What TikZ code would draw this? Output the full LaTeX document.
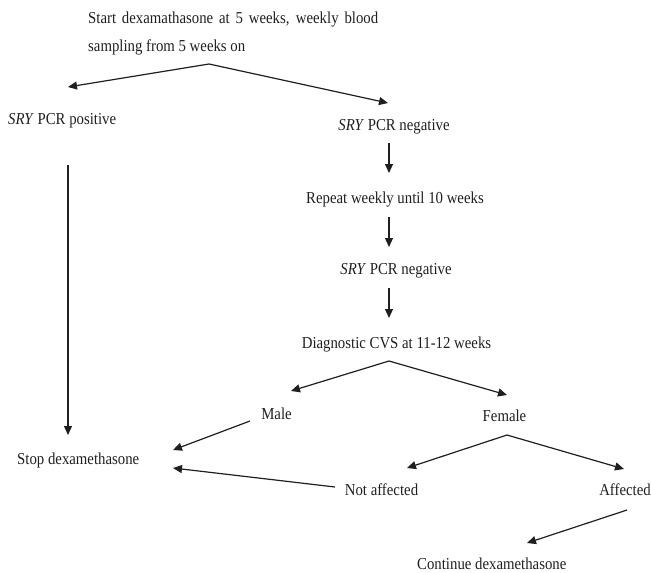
\documentclass[tikz,border=0pt]{standalone}
\usepackage{graphicx}
\usepackage{fontspec}
\setmainfont{Liberation Serif}
\usetikzlibrary{arrows.meta}
\newcommand{\tallt}[1]{\scalebox{1}[1.13]{#1}}
\begin{document}
\begin{tikzpicture}[x=1pt,y=-1pt,
  lbl/.style={inner sep=0pt, font=\fontsize{14.8}{18}\selectfont, text=black!88},
  arr/.style={draw=black!88, line width=1.2pt, -{Triangle[length=9pt,width=8pt]}}]
\useasboundingbox (0,0) rectangle (651,573);
% texts
\node[lbl, anchor=base west] (t1) at (88,23) {\tallt{\makebox[290pt][s]{Start dexamathasone at 5 weeks, weekly blood}}};
\node[lbl, anchor=base west] (t2) at (88,51) {\tallt{sampling from 5 weeks on}};
\node[lbl, anchor=base west] (pos) at (8,124) {\tallt{\textit{SRY} PCR positive}};
\node[lbl, anchor=base] (neg1) at (394,130) {\tallt{\textit{SRY} PCR negative}};
\node[lbl, anchor=base] (rep) at (395,203) {\tallt{Repeat weekly until 10 weeks}};
\node[lbl, anchor=base] (neg2) at (396,274) {\tallt{\textit{SRY} PCR negative}};
\node[lbl, anchor=base] (diag) at (396.5,348) {\tallt{Diagnostic CVS at 11-12 weeks}};
\node[lbl, anchor=base] (male) at (276.5,419) {\tallt{Male}};
\node[lbl, anchor=base] (female) at (504.5,421) {\tallt{Female}};
\node[lbl, anchor=base west] (stop) at (17,464) {\tallt{Stop dexamethasone}};
\node[lbl, anchor=base] (notaff) at (381.5,495) {\tallt{Not affected}};
\node[lbl, anchor=base east] (aff) at (651,495) {\tallt{Affected}};
\node[lbl, anchor=base west] (cont) at (417,569) {\tallt{Continue dexamethasone}};
% connector ends
\coordinate (a0) at (209,64);
\coordinate (posin) at (68,87);
\coordinate (neg1in) at (388,103);
\coordinate (neg1out) at (389,143);
\coordinate (repin) at (389,173);
\coordinate (repout) at (389,217);
\coordinate (neg2in) at (389,247);
\coordinate (neg2out) at (389,288);
\coordinate (diagin) at (389,318);
\coordinate (a1) at (389,361);
\coordinate (malein) at (291,391);
\coordinate (femalein) at (507,395);
\coordinate (posout) at (68,165);
\coordinate (stopin) at (68,435);
\coordinate (maleout) at (250,421);
\coordinate (stopin2) at (173,450);
\coordinate (a2) at (507,435);
\coordinate (notaffin) at (407,468);
\coordinate (affin) at (624,469);
\coordinate (notaffout) at (335,487);
\coordinate (stopin3) at (173,468);
\coordinate (affout) at (627,510);
\coordinate (contin) at (527,543);
% connectors
\draw[arr] (a0) -- (posin);
\draw[arr] (a0) -- (neg1in);
\draw[arr] (neg1out) -- (repin);
\draw[arr] (repout) -- (neg2in);
\draw[arr] (neg2out) -- (diagin);
\draw[arr] (a1) -- (malein);
\draw[arr] (a1) -- (femalein);
\draw[arr] (posout) -- (stopin);
\draw[arr] (maleout) -- (stopin2);
\draw[arr] (a2) -- (notaffin);
\draw[arr] (a2) -- (affin);
\draw[arr] (notaffout) -- (stopin3);
\draw[arr] (affout) -- (contin);
\end{tikzpicture}
\end{document}
